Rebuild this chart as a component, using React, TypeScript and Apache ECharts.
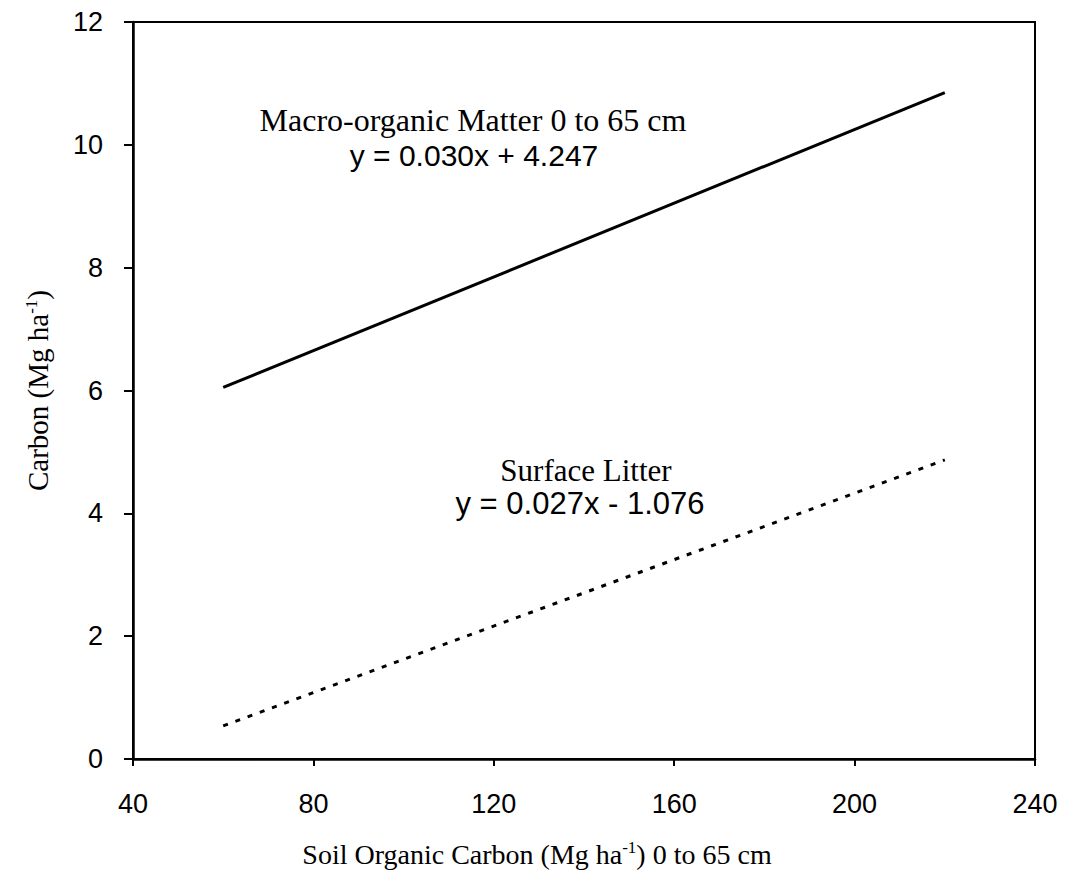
import React, { useEffect, useRef } from "react";
import * as echarts from "echarts";

const xTicks = [40, 80, 120, 160, 200, 240];
const yTicks = [0, 2, 4, 6, 8, 10, 12];
const macroLine: [number, number][] = [
  [60, 6.05],
  [220, 10.85],
];
const litterLine: [number, number][] = [
  [60, 0.54],
  [220, 4.87],
];
const macroLabel = "Macro-organic Matter 0 to 65 cm";
const macroEq = "y = 0.030x + 4.247";
const litterLabel = "Surface Litter";
const litterEq = "y = 0.027x - 1.076";

const serif = "'Liberation Serif', 'Times New Roman', serif";
const sans = "'Liberation Sans', Arial, sans-serif";

export default function App() {
  const ref = useRef<HTMLDivElement>(null);
  useEffect(() => {
    if (!ref.current) return;
    const chart = echarts.init(ref.current, null, { renderer: "svg" });
    const supRich = {
      n: { fontFamily: serif, fontSize: 28, color: "#000" },
      s: { fontFamily: serif, fontSize: 17, color: "#000", padding: [0, 0, 13, 0] },
    };
    const supRichY = {
      n: { fontFamily: serif, fontSize: 29, color: "#000" },
      s: { fontFamily: serif, fontSize: 17, color: "#000", padding: [0, 0, 13, 0] },
    };
    chart.setOption({
      animation: false,
      backgroundColor: "#fff",
      grid: {
        left: 133,
        right: 31,
        top: 22,
        bottom: 127,
        show: true,
        borderColor: "#000",
        borderWidth: 2,
        backgroundColor: "transparent",
      },
      xAxis: {
        type: "value",
        min: xTicks[0],
        max: xTicks[xTicks.length - 1],
        interval: 40,
        name: "{n|Soil Organic Carbon (Mg ha}{s|-1}{n|) 0 to 65 cm}",
        nameLocation: "middle",
        nameGap: 80,
        nameTextStyle: { color: "#000", padding: [0, 94, 0, 0], rich: supRich },
        axisLine: { show: true, lineStyle: { color: "#000", width: 2.5 } },
        axisTick: { show: true, length: 7, lineStyle: { color: "#000", width: 2 } },
        axisLabel: { margin: 31, color: "#000", fontFamily: sans, fontSize: 27 },
        splitLine: { show: false },
      },
      yAxis: {
        type: "value",
        min: yTicks[0],
        max: yTicks[yTicks.length - 1],
        interval: 2,
        name: "{n|Carbon (Mg ha}{s|-1}{n|)}",
        nameLocation: "middle",
        nameRotate: 90,
        nameGap: 80,
        nameTextStyle: { color: "#000", rich: supRichY },
        axisLine: { show: true, lineStyle: { color: "#000", width: 2.5 } },
        axisTick: { show: true, length: 9, lineStyle: { color: "#000", width: 2 } },
        axisLabel: { margin: 30, color: "#000", fontFamily: sans, fontSize: 27 },
        splitLine: { show: false },
      },
      series: [
        {
          name: "Macro-organic Matter",
          type: "line",
          data: macroLine,
          showSymbol: false,
          symbol: "none",
          lineStyle: { color: "#000", width: 3, type: "solid" },
        },
        {
          name: "Surface Litter",
          type: "line",
          data: litterLine,
          showSymbol: false,
          symbol: "none",
          lineStyle: { color: "#000", width: 3, type: [5, 8] },
        },
      ],
      graphic: [
        {
          type: "text",
          x: 473,
          y: 120,
          style: {
            text: macroLabel,
            fontFamily: serif,
            fontSize: 32,
            fill: "#000",
            align: "center",
            verticalAlign: "middle",
          },
        },
        {
          type: "text",
          x: 474,
          y: 155,
          style: {
            text: macroEq,
            fontFamily: sans,
            fontSize: 30,
            fill: "#000",
            align: "center",
            verticalAlign: "middle",
          },
        },
        {
          type: "text",
          x: 586,
          y: 470,
          style: {
            text: litterLabel,
            fontFamily: serif,
            fontSize: 31,
            fill: "#000",
            align: "center",
            verticalAlign: "middle",
          },
        },
        {
          type: "text",
          x: 580,
          y: 503,
          style: {
            text: litterEq,
            fontFamily: sans,
            fontSize: 31,
            fill: "#000",
            align: "center",
            verticalAlign: "middle",
          },
        },
      ],
    });
    return () => chart.dispose();
  }, []);
  return <div ref={ref} style={{ width: 1066, height: 886, margin: -8 }} />;
}
